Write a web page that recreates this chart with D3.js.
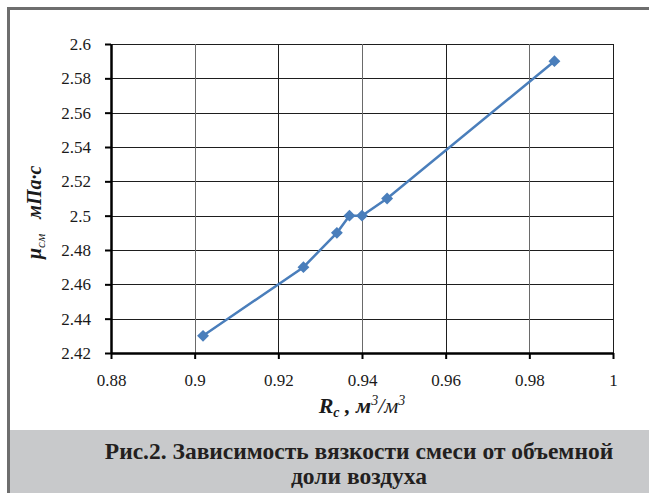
<!DOCTYPE html>
<html>
<head>
<meta charset="utf-8">
<script src="https://cdn.jsdelivr.net/npm/d3@7"></script>
<style>
  body { margin: 0; background: #fff; }
</style>
</head>
<body>
<div id="plot"></div>
<script>
// data
var airShare = [0.902, 0.926, 0.934, 0.937, 0.940, 0.946, 0.986];
var viscosity = [2.43, 2.47, 2.49, 2.50, 2.50, 2.51, 2.59];
var xTicks = [0.88, 0.9, 0.92, 0.94, 0.96, 0.98, 1];
var yTicks = [2.42, 2.44, 2.46, 2.48, 2.5, 2.52, 2.54, 2.56, 2.58, 2.6];
var captionLines = ["Рис.2. Зависимость вязкости смеси от объемной", "доли воздуха"];

var W = 649, H = 493;
var serif = "'Liberation Serif', serif";
var margin = { top: 44, right: 36, bottom: 140, left: 111 },
	width = W - margin.left - margin.right, height = H - margin.top - margin.bottom;

var svg = d3.select("#plot").append("svg")
	.attr("width", W)
	.attr("height", H);

//outer frame
svg.append("rect")
	.attr("x", 8.5).attr("y", 8.5)
	.attr("width", W + 10).attr("height", H + 10)
	.attr("fill", "none")
	.attr("stroke", "#6e6e6e")
	.attr("stroke-width", 3);

//caption box
svg.append("rect")
	.attr("x", 10).attr("y", 430)
	.attr("width", W - 10).attr("height", H - 430)
	.attr("fill", "#c8c9cb");

svg.selectAll(".cap")
	.data(captionLines)
	.enter().append("text")
	.attr("class", "cap")
	.attr("x", 359)
	.attr("y", function (d, i) { return 459 + i * 25; })
	.attr("text-anchor", "middle")
	.style("font-family", serif)
	.style("font-size", "23.5px")
	.style("font-weight", "bold")
	.attr("fill", "#231f20")
	.text(function (d) { return d; });

var g = svg.append("g")
	.attr("transform", "translate(" + margin.left + "," + margin.top + ")");

var xScale = d3.scaleLinear().domain([0.88, 1]).range([0, width]);
var yScale = d3.scaleLinear().domain([2.42, 2.6]).range([height, 0]);

//grid
g.append("g").selectAll("line")
	.data(yTicks)
	.enter().append("line")
	.attr("x1", 0).attr("x2", width)
	.attr("y1", function (d) { return Math.round(yScale(d)) + 0.5; })
	.attr("y2", function (d) { return Math.round(yScale(d)) + 0.5; })
	.attr("stroke", "#1e1e1e").attr("stroke-width", 1);

g.append("g").selectAll("line")
	.data(xTicks)
	.enter().append("line")
	.attr("y1", 0).attr("y2", height)
	.attr("x1", function (d) { return Math.round(xScale(d)) + 0.5; })
	.attr("x2", function (d) { return Math.round(xScale(d)) + 0.5; })
	.attr("stroke", function (d, i) { return i % 2 ? "#6a6a6a" : "#1e1e1e"; })
	.attr("stroke-width", 1);

//axes
var xAxis = g.append("g")
	.attr("transform", "translate(0," + height + ")")
	.call(d3.axisBottom(xScale).tickValues(xTicks).tickSize(6).tickSizeOuter(0).tickPadding(15)
		.tickFormat(function (d) { return String(+d.toFixed(2)); }));

var yAxis = g.append("g")
	.call(d3.axisLeft(yScale).tickValues(yTicks).tickSize(6).tickSizeOuter(0).tickPadding(14)
		.tickFormat(function (d) { return String(+d.toFixed(2)); }));

[xAxis, yAxis].forEach(function (a) {
	a.select(".domain").attr("stroke", "#000").attr("stroke-width", 2.5);
	a.selectAll(".tick line").attr("stroke", "#000").attr("stroke-width", 2);
	a.selectAll(".tick text")
		.style("font-family", serif)
		.style("font-size", "17px")
		.attr("fill", "#1a1a1a");
});

//line and markers
var pts = airShare.map(function (x, i) { return [x, viscosity[i]]; });

g.append("path")
	.datum(pts)
	.attr("fill", "none")
	.attr("stroke", "#4a7ebb")
	.attr("stroke-width", 2.5)
	.attr("d", d3.line()
		.x(function (d) { return xScale(d[0]); })
		.y(function (d) { return yScale(d[1]); }));

g.selectAll(".mk")
	.data(pts)
	.enter().append("path")
	.attr("class", "mk")
	.attr("transform", function (d) { return "translate(" + xScale(d[0]) + "," + yScale(d[1]) + ")"; })
	.attr("d", d3.symbol().type(d3.symbolDiamond2).size(90))
	.attr("fill", "#4a7ebb");

//axis titles
var xt = svg.append("text")
	.attr("x", margin.left + width / 2)
	.attr("y", 413)
	.attr("text-anchor", "middle")
	.style("font-family", serif)
	.style("font-size", "22px")
	.style("font-weight", "bold")
	.style("font-style", "italic")
	.attr("fill", "#1a1a1a");
xt.append("tspan").text("R");
xt.append("tspan").style("font-size", "14px").attr("dy", 4).text("c");
xt.append("tspan").attr("dy", -4).text(" , м");
xt.append("tspan").style("font-size", "14px").attr("dy", -8).style("font-weight", "normal").text("3");
xt.append("tspan").attr("dy", 8).style("font-weight", "normal").text("/м");
xt.append("tspan").style("font-size", "14px").attr("dy", -8).style("font-weight", "normal").text("3");

var yt = svg.append("text")
	.attr("transform", "translate(41,259) rotate(-90)")
	.attr("text-anchor", "start")
	.style("font-family", serif)
	.style("font-size", "20px")
	.style("font-weight", "bold")
	.style("font-style", "italic")
	.attr("fill", "#1a1a1a");
yt.append("tspan").text("μ");
yt.append("tspan").style("font-size", "13px").style("font-weight", "normal").attr("dy", 4).text("см");
yt.append("tspan").attr("dy", -4).text("\u00a0\u00a0\u00a0мПа·с");
</script>
</body>
</html>
